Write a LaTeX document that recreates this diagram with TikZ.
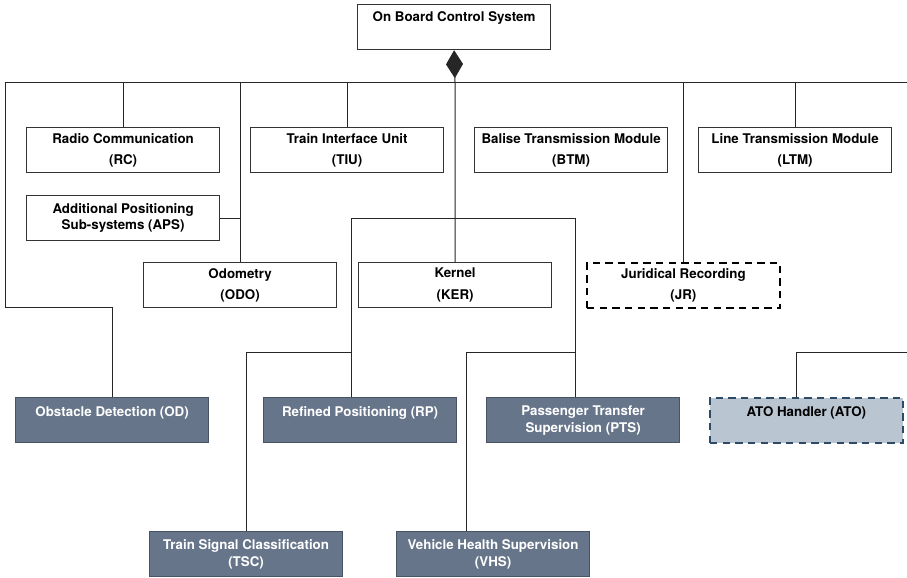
\documentclass[tikz,border=0pt]{standalone}
\usepackage{fontspec}
\setmainfont{TeX Gyre Heros}
\usepackage{xcolor}
\usepackage{tikz}
\usetikzlibrary{
	arrows.meta,
	positioning
}
\definecolor{SlateFill}{RGB}{102,117,138}
\definecolor{SlateEdge}{RGB}{72,84,100}
\definecolor{AtoFill}{RGB}{185,197,209}
\definecolor{AtoEdge}{RGB}{45,74,102}

\begin{document}
\begin{tikzpicture}[x=0.75pt, y=-0.75pt,
	unit/.style={draw=black!80, line width=0.9pt, fill=white, anchor=north west,
		minimum width=144.75pt, minimum height=33.75pt, inner sep=0pt, align=center,
		font=\bfseries\fontsize{10}{16}\selectfont},
	func/.style={unit, draw=SlateEdge, fill=SlateFill, text=white,
		font=\bfseries\fontsize{10}{12.75}\selectfont},
	link/.style={line width=0.75pt, black!85}]
		\useasboundingbox (0,0) rectangle (907,578);
		
		% 顶层系统
		\node[unit] (obcs) at (357,4) {On Board Control System\\~};
		
		% 第一排子系统
		\node[unit] (rc) at (26,127) {Radio Communication\\(RC)};
		\node[unit] (tiu) at (250,127) {Train Interface Unit\\(TIU)};
		\node[unit] (btm) at (474,127) {Balise Transmission Module\\(BTM)};
		\node[unit] (ltm) at (698,127) {Line Transmission Module\\(LTM)};
		\node[unit, font=\bfseries\fontsize{10}{11.5}\selectfont] (aps) at (26,195) {Additional Positioning\\Sub-systems (APS)};
		
		% 第二排子系统
		\node[unit] (odo) at (143,262) {Odometry\\(ODO)};
		\node[unit] (ker) at (358,262) {Kernel\\(KER)};
		\node[unit, draw=black, dash pattern=on 5.5pt off 4pt, line width=1.4pt] (jr) at (586,262) {Juridical Recording\\(JR)};
		
		% 新功能
		\node[func] (od) at (15,397) {Obstacle Detection (OD)\\~};
		\node[func] (rp) at (263,397) {Refined Positioning (RP)\\~};
		\node[func] (pts) at (486,397) {Passenger Transfer\\Supervision (PTS)};
		\node[func, draw=AtoEdge, fill=AtoFill, text=black, dash pattern=on 5.5pt off 4pt, line width=1.3pt] (ato) at (709,397) {ATO Handler (ATO)\\~};
		\node[func] (tsc) at (149,531) {Train Signal Classification\\(TSC)};
		\node[func] (vhs) at (396,531) {Vehicle Health Supervision\\(VHS)};
		
		% 总线
		\coordinate (busL) at (5,82);
		\coordinate (busR) at (907,82);
		\coordinate (busC) at (455,82);
		\draw[link] (busL) -- (busR);
		\draw[link, -{Diamond[width=12.75pt, length=21pt]}] (busC) -- (obcs.south);
		
		% 连线
		\draw[link] (busL) -- (5,307) -| (od.north);
		\draw[link] (rc.north) -- (rc.north |- busC);
		\draw[link] (odo.north) -- (odo.north |- busC);
		\draw[link] (aps.east) -- (aps.east -| odo.north);
		\draw[link] (tiu.north) -- (tiu.north |- busC);
		\draw[link] (busC) -- (ker.north);
		\draw[link] (jr.north) -- (jr.north |- busC);
		\draw[link] (ltm.north) -- (ltm.north |- busC);
		
		% 内核分支
		\coordinate (kerL) at (351,218);
		\coordinate (kerR) at (575,218);
		\coordinate (tscJ) at (351,352);
		\coordinate (vhsJ) at (575,352);
		\coordinate (atoJ) at (907,352);
		\draw[link] (kerL) -- (kerR);
		\draw[link] (kerL) -- (kerL |- rp.north);
		\draw[link] (kerR) -- (kerR |- pts.north);
		\draw[link] (tscJ) -| (tsc.north);
		\draw[link] (vhsJ) -| ([xshift=-19.9pt]vhs.north);
		\draw[link] (atoJ) -| ([xshift=-7.1pt]ato.north);
	\end{tikzpicture}
\end{document}
